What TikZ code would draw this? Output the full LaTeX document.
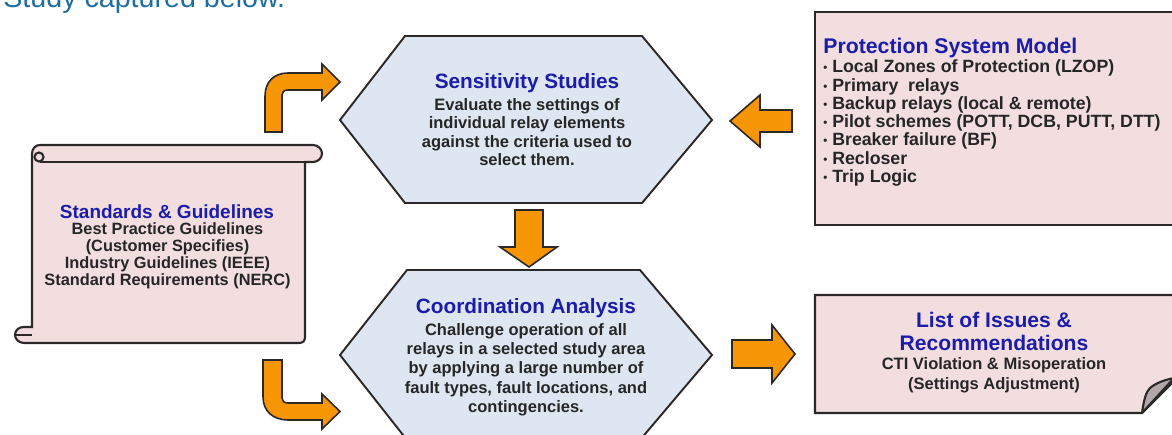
\documentclass[tikz,border=0pt]{standalone}
\usepackage{fontspec}
\setmainfont{Liberation Sans}
\usetikzlibrary{positioning}

\definecolor{titleblue}{RGB}{28,28,170}
\definecolor{bodygray}{RGB}{38,38,38}
\definecolor{pinkfill}{RGB}{242,222,222}
\definecolor{hexfill}{RGB}{221,230,241}
\definecolor{arroworange}{RGB}{247,150,5}
\definecolor{edgegray}{RGB}{45,40,40}
\definecolor{leadblue}{RGB}{31,110,160}
\definecolor{foldgray}{RGB}{178,168,170}

\newcommand{\pbul}{\raisebox{0.05em}{\fontsize{6.5}{6.5}\selectfont\textbullet}\ }

\tikzset{
  hexbox/.style={fill=hexfill, draw=edgegray, line width=1.1pt, line join=miter},
  pinkbox/.style={fill=pinkfill, draw=edgegray, line width=1.2pt},
  blockarrow/.style={fill=arroworange, draw=edgegray, line width=0.9pt, line join=miter},
  titletext/.style={inner sep=0pt, text=titleblue, font=\fontsize{11.8}{13}\selectfont\bfseries},
  bodytext/.style={inner sep=0pt, text=bodygray, align=center, font=\fontsize{9.4}{10.5}\selectfont\bfseries},
}

\begin{document}
\begin{tikzpicture}[x=0.02cm, y=-0.02cm]
	\useasboundingbox (0,0) rectangle (1172,435);
	\clip (0,0) rectangle (1172,435);

	% heading cut off at the top
	\node[anchor=base west, inner sep=0pt, text=leadblue, font=\fontsize{16.3}{18}\selectfont] (lead) at (3,8) {Study captured below.};

	% scroll
	\draw[pinkbox] (32,154) .. controls (32,149) and (35,145) .. (40,145) -- (313,145)
		.. controls (318,145) and (322,149) .. (322,153.5) .. controls (322,158) and (318,162) .. (313,162)
		-- (305,162) -- (305,337) .. controls (305,341) and (303,343) .. (299,343) -- (24,343)
		.. controls (19,343) and (15,339) .. (15,335) .. controls (15,330) and (19,327) .. (24,327)
		-- (32,327) -- cycle;
	\draw[edgegray, line width=1.2pt] (39,157) circle[radius=4.5];
	\draw[edgegray, line width=1.2pt] (40,162) -- (305,162);
	\draw[edgegray, line width=1.2pt] (16,335) -- (32,335);
	\node[inner sep=0pt, text=titleblue, font=\fontsize{10.8}{12}\selectfont\bfseries] (stds) at (167,212) {Standards \& Guidelines};
	\node[bodytext, font=\fontsize{9.3}{9.7}\selectfont\bfseries] (stdsbody) at (167.5,256) {Best Practice Guidelines\\(Customer Specifies)\\Industry Guidelines (IEEE)\\Standard Requirements (NERC)};

	% hexagons
	\draw[hexbox] (340,120) -- (405,36) -- (642,36) -- (712,120) -- (642,203) -- (405,203) -- cycle;
	\node[titletext] (sens) at (527,83) {Sensitivity Studies};
	\node[bodytext] (sensbody) at (527,132) {Evaluate the settings of\\individual relay elements\\against the criteria used to\\select them.};

	\draw[hexbox] (340,355) -- (407,270) -- (640,270) -- (712,355) -- (640,440) -- (407,440) -- cycle;
	\node[titletext] (coord) at (526,308) {Coordination Analysis};
	\node[bodytext, font=\fontsize{9.4}{11}\selectfont\bfseries] (coordbody) at (526,369.5) {Challenge operation of all\\relays in a selected study area\\by applying a large number of\\fault types, fault locations, and\\contingencies.};

	% protection system model
	\draw[pinkbox] (815,12) rectangle (1190,225);
	\node[anchor=west, titletext, font=\fontsize{12.1}{13}\selectfont\bfseries] (prot) at (823,48) {Protection System Model};
	\node[anchor=west, bodytext, align=left, font=\fontsize{10.1}{10.4}\selectfont\bfseries] (protbody) at (823,123) {\pbul Local Zones of Protection (LZOP)\\\pbul Primary\ \ relays\\\pbul Backup relays (local \& remote)\\\pbul Pilot schemes (POTT, DCB, PUTT, DTT)\\\pbul Breaker failure (BF)\\\pbul Recloser\\\pbul Trip Logic};

	% list of issues
	\draw[pinkbox] (815,295) -- (1190,295) -- (1190,365) -- (1142,413) -- (815,413) -- cycle;
	\draw[fill=foldgray, draw=edgegray, line width=1.2pt, line join=round] (1142,413)
		.. controls (1144,399) and (1146,392) .. (1150,388) .. controls (1156,383) and (1164,380) .. (1174,378) -- cycle;
	\node[titletext, align=center, font=\fontsize{12}{13}\selectfont\bfseries] (issues) at (994,331.5) {List of Issues \&\\Recommendations};
	\node[bodytext, font=\fontsize{9.4}{11.4}\selectfont\bfseries] (issuesbody) at (994,375) {CTI Violation \& Misoperation\\(Settings Adjustment)};

	% orange block arrows
	\draw[blockarrow] (515,210) -- (543,210) -- (543,247) -- (557,247) -- (529,267) -- (500,247) -- (515,247) -- cycle;
	\draw[blockarrow] (792,110) -- (760,110) -- (760,95) -- (730,121) -- (760,147) -- (760,132) -- (792,132) -- cycle;
	\draw[blockarrow] (732,340) -- (772,340) -- (772,325) -- (795,354) -- (772,383) -- (772,368) -- (732,368) -- cycle;
	\draw[blockarrow] (265,132) -- (265,96) .. controls (265,82) and (274,73) .. (288,73) -- (322,73) -- (322,64)
		-- (340,82) -- (322,100) -- (322,90) -- (288,90) .. controls (284,90) and (282,92) .. (282,95) -- (282,132) -- cycle;
	\draw[blockarrow] (263,360) -- (282,360) -- (282,398) .. controls (282,401) and (284,403) .. (288,403) -- (322,403)
		-- (322,394) -- (340,411.5) -- (322,429) -- (322,420) -- (288,420) .. controls (273,420) and (263,411) .. (263,397) -- cycle;
\end{tikzpicture}
\end{document}
